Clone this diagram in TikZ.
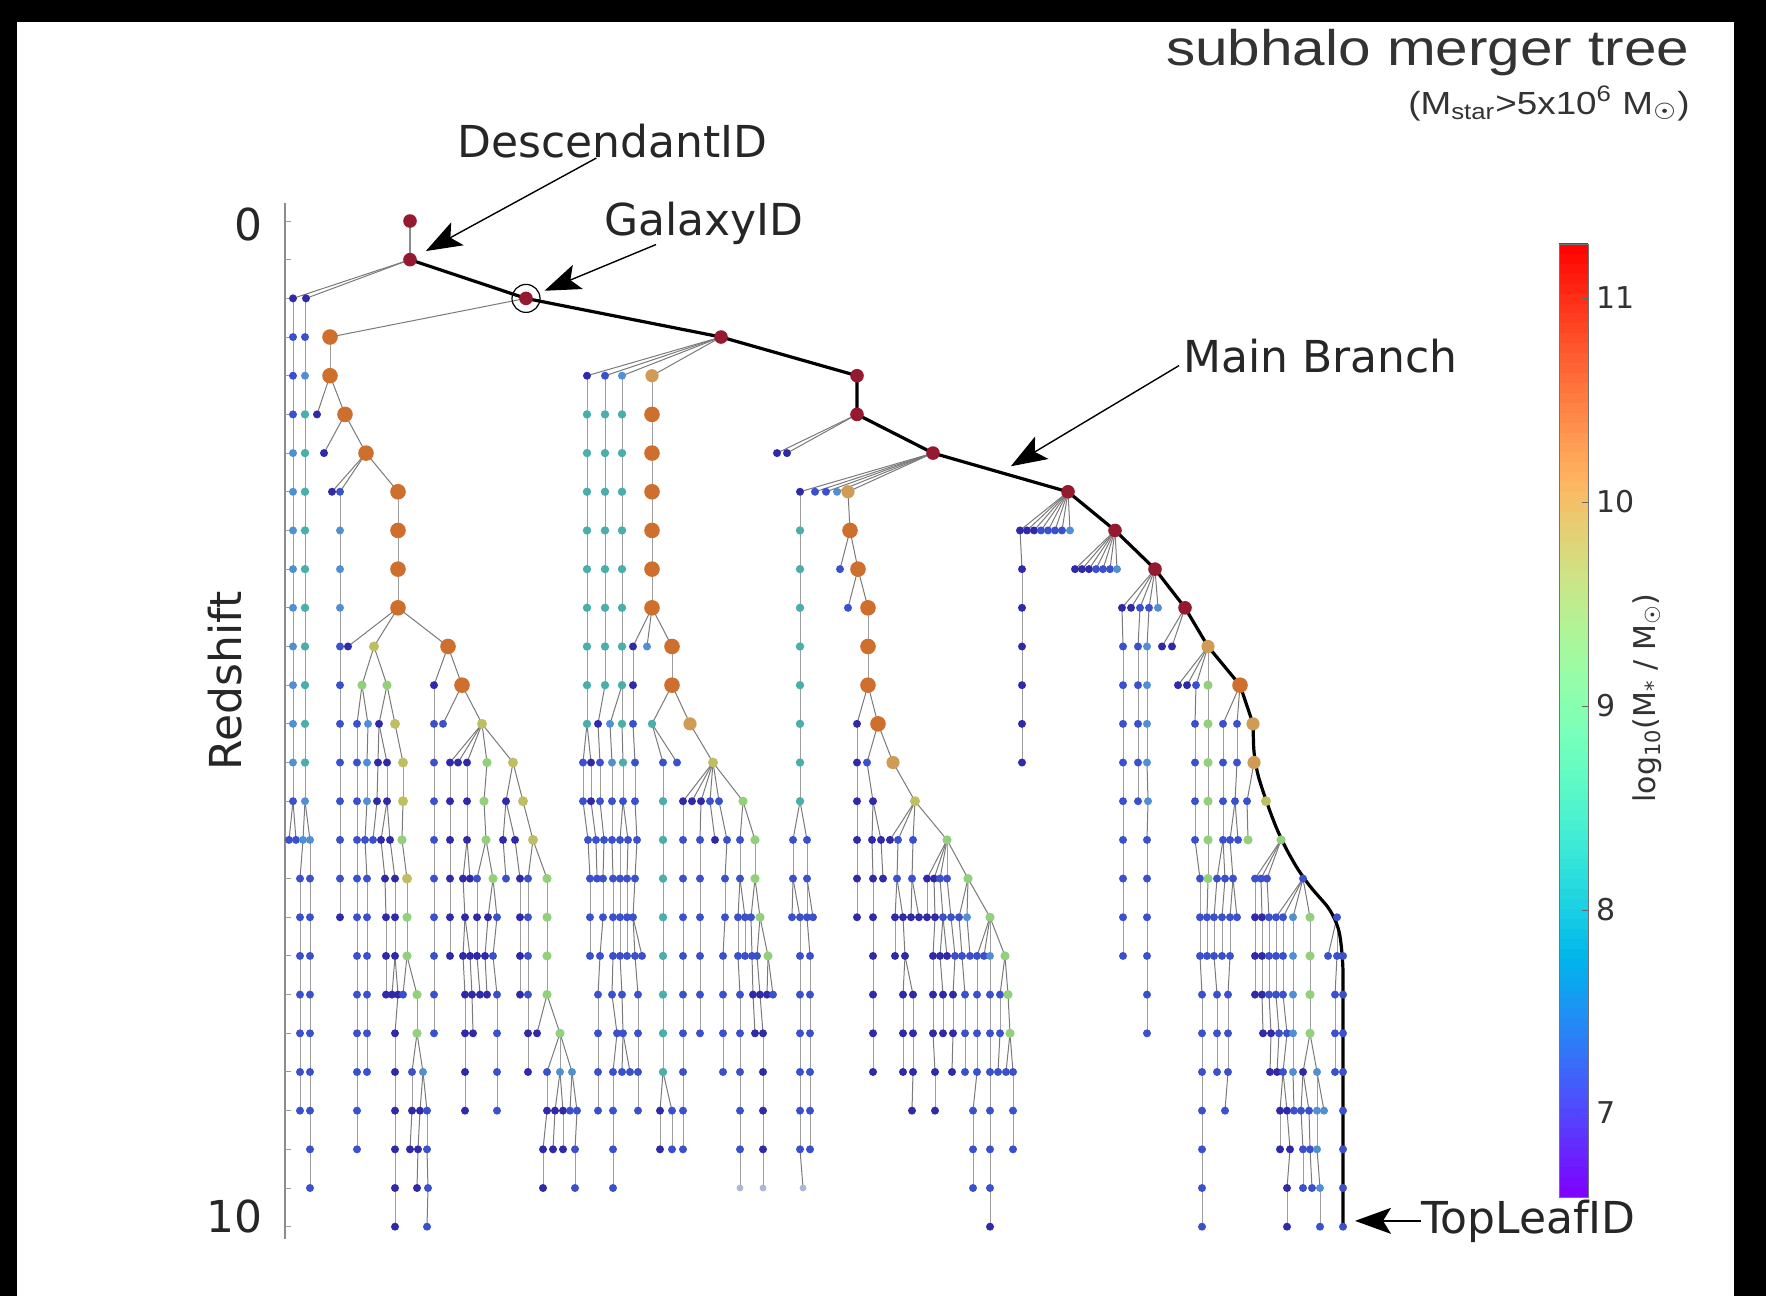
\documentclass[tikz,border=0pt]{standalone}
\usepackage{fontspec}
\setmainfont{DejaVu Sans}
\newfontfamily\titlefont{Liberation Sans}
\newfontfamily\djv{DejaVu Sans}
\usetikzlibrary{arrows.meta,calc}
\definecolor{cA}{HTML}{302AA8}
\definecolor{cB}{HTML}{3B50CC}
\definecolor{cC}{HTML}{4F8FD2}
\definecolor{cT}{HTML}{4AAFAA}
\definecolor{cG}{HTML}{92D07C}
\definecolor{cY}{HTML}{BFBE62}
\definecolor{cD}{HTML}{D09C55}
\definecolor{cO}{HTML}{CF6F2E}
\definecolor{cR}{HTML}{941A30}
\definecolor{cL}{HTML}{AEB6D6}
\newcommand\radA{2.0pt}
\newcommand\radB{2.0pt}
\newcommand\radC{2.0pt}
\newcommand\radT{2.1pt}
\newcommand\radG{2.3pt}
\newcommand\radY{2.5pt}
\newcommand\radD{3.3pt}
\newcommand\radO{3.9pt}
\newcommand\radR{3.4pt}
\newcommand\radL{1.7pt}
\newcommand\setrow[2]{\expandafter\def\csname rd#1\endcsname{#2}}
% entries: x / colour class / parent x (0 = straight above, 1 = no link)
\setrow{0}{410/R/1}
\setrow{1}{410/R/1}
\setrow{2}{293/A/410, 306/A/410, 526/R/1}
\setrow{3}{293/B/0, 305/B/0, 330/O/526, 721/R/1}
\setrow{4}{293/B/0, 305/C/0, 330/O/0, 587/A/721, 605/B/721, 622/C/721, 652/D/721, 857/R/1}
\setrow{5}{293/B/0, 305/T/0, 317/A/330, 345/O/330, 587/T/0, 605/T/0, 622/T/0, 652/O/0, 857/R/1}
\setrow{6}{293/C/0, 305/T/0, 324/A/345, 366/O/345, 587/T/0, 605/T/0, 622/T/0, 652/O/0, 777/A/857, 787/A/857, 933/R/1}
\setrow{7}{293/C/0, 305/T/0, 332/A/366, 340/B/366, 398/O/366, 587/T/0, 605/T/0, 622/T/0, 652/O/0, 800/A/933, 815/B/933, 826/B/933, 837/C/933, 848/D/933, 1068/R/1}
\setrow{8}{293/C/0, 305/T/0, 340/C/0, 398/O/0, 587/T/0, 605/T/0, 622/T/0, 652/O/0, 800/T/0, 850/O/848, 1020/A/1068, 1027/A/1068, 1034/A/1068, 1041/B/1068, 1048/B/1068, 1055/B/1068, 1062/B/1068, 1070/C/1068, 1115/R/1}
\setrow{9}{293/C/0, 305/T/0, 340/C/0, 398/O/0, 587/T/0, 605/T/0, 622/T/0, 652/O/0, 800/T/0, 840/B/850, 858/O/850, 1022/A/1020, 1075/A/1115, 1082/A/1115, 1089/A/1115, 1096/B/1115, 1103/B/1115, 1110/B/1115, 1117/C/1115, 1155/R/1}
\setrow{10}{293/C/0, 305/T/0, 340/C/0, 398/O/0, 587/T/0, 605/T/0, 622/T/0, 652/O/0, 800/T/0, 848/B/858, 868/O/858, 1022/A/0, 1122/A/1155, 1131/A/1155, 1140/B/1155, 1149/B/1155, 1158/C/1155, 1185/R/1}
\setrow{11}{293/C/0, 305/T/0, 340/B/0, 348/A/398, 374/Y/398, 448/O/398, 587/T/0, 605/T/0, 622/T/0, 633/A/652, 647/C/652, 672/O/652, 800/T/0, 868/O/0, 1022/A/0, 1123/B/1122, 1138/B/1140, 1147/C/1149, 1162/A/1185, 1172/A/1185, 1208/D/1}
\setrow{12}{293/C/0, 305/T/0, 340/B/0, 362/G/374, 387/G/374, 434/A/448, 462/O/448, 587/T/0, 605/T/0, 622/T/0, 633/A/0, 672/O/0, 800/T/0, 868/O/0, 1022/A/0, 1123/B/0, 1138/B/0, 1147/C/0, 1178/A/1208, 1187/A/1208, 1196/B/1208, 1208/G/0, 1240/O/1}
\setrow{13}{293/C/0, 305/T/0, 340/B/0, 357/B/362, 368/C/362, 379/A/387, 395/Y/387, 434/B/0, 443/B/462, 482/Y/462, 587/T/0, 598/A/605, 610/C/622, 622/T/0, 633/B/0, 652/T/672, 690/D/672, 800/T/0, 857/A/868, 878/O/868, 1022/A/0, 1123/B/0, 1138/B/0, 1147/C/0, 1195/B/1196, 1208/G/0, 1223/B/1240, 1237/B/1240, 1253/D/1}
\setrow{14}{293/C/0, 305/T/0, 340/B/0, 357/B/0, 367/C/368, 378/A/379, 387/A/379, 403/Y/395, 434/B/0, 450/A/482, 458/A/482, 467/A/482, 487/G/482, 513/Y/482, 583/B/587, 591/A/587, 600/B/598, 612/C/610, 623/T/622, 635/B/633, 663/B/652, 677/B/652, 713/Y/690, 800/T/0, 857/A/0, 867/B/878, 893/D/878, 1022/A/0, 1123/B/0, 1138/B/0, 1147/C/0, 1195/B/0, 1208/G/0, 1223/B/0, 1237/B/0, 1254/D/1}
\setrow{15}{293/B/0, 305/C/0, 340/B/0, 357/B/0, 367/C/0, 377/A/378, 387/A/0, 403/Y/0, 434/B/0, 450/A/0, 467/A/0, 484/G/487, 506/A/513, 523/Y/513, 583/B/0, 591/A/0, 600/B/0, 612/B/0, 623/B/0, 635/B/0, 663/T/0, 683/A/713, 692/A/713, 701/A/713, 710/B/713, 719/B/713, 743/G/713, 800/T/0, 857/A/0, 873/A/867, 915/Y/893, 1123/B/0, 1138/B/0, 1148/C/1147, 1195/B/0, 1208/G/0, 1223/B/0, 1235/B/1237, 1247/B/1254, 1266/Y/1}
\setrow{16}{289/B/293, 296/B/293, 303/C/305, 310/C/305, 340/B/0, 357/B/0, 365/B/367, 373/B/377, 381/A/387, 390/A/387, 402/G/403, 434/B/0, 450/A/0, 467/A/0, 486/G/484, 503/A/506, 515/A/506, 533/Y/523, 588/B/583, 596/B/591, 604/B/600, 612/B/0, 620/B/623, 628/B/623, 637/B/635, 663/T/0, 683/B/0, 700/B/701, 715/A/710, 727/B/719, 740/B/743, 755/G/743, 793/B/800, 807/B/800, 857/A/0, 872/A/873, 881/A/873, 890/A/915, 898/B/915, 913/B/915, 947/G/915, 1123/B/0, 1147/B/1148, 1195/B/0, 1208/G/0, 1223/B/0, 1230/B/1235, 1238/B/1235, 1248/G/1247, 1281/G/1}
\setrow{17}{300/B/303, 310/B/0, 340/B/0, 357/B/0, 367/B/365, 385/A/381, 395/A/390, 407/Y/402, 434/B/0, 450/A/0, 463/A/467, 470/A/467, 477/B/486, 493/G/486, 506/B/503, 520/A/515, 528/B/533, 547/G/533, 590/B/588, 597/B/596, 603/B/604, 613/B/612, 620/B/0, 627/B/628, 635/B/637, 663/T/0, 683/B/0, 700/B/0, 725/B/727, 740/B/0, 755/G/0, 793/B/0, 807/B/0, 857/A/0, 873/A/872, 883/A/881, 897/B/898, 912/B/913, 927/A/947, 934/A/947, 940/B/947, 947/B/0, 968/G/947, 1123/B/0, 1147/B/0, 1200/B/1195, 1208/G/0, 1217/B/1223, 1225/B/1223, 1233/B/1230, 1255/B/1281, 1261/B/1281, 1267/B/1281, 1303/B/1}
\setrow{18}{300/B/0, 310/B/0, 340/A/0, 357/B/0, 367/B/0, 386/A/385, 395/A/0, 407/G/0, 434/B/0, 450/A/0, 465/A/463, 477/A/0, 488/A/493, 497/B/493, 520/A/0, 528/B/0, 547/G/0, 590/B/0, 603/B/0, 613/B/0, 620/B/0, 627/B/0, 633/B/635, 663/T/0, 683/B/0, 700/B/0, 725/B/0, 738/B/740, 745/B/740, 751/B/755, 760/G/755, 792/B/793, 800/B/793, 807/B/0, 813/B/807, 857/A/0, 873/A/0, 895/A/897, 903/A/897, 911/A/912, 919/A/912, 927/A/0, 935/A/934, 943/B/940, 951/B/947, 959/B/968, 967/C/968, 990/G/968, 1123/B/0, 1147/B/0, 1200/B/0, 1207/B/1208, 1214/B/1217, 1222/B/1225, 1230/B/1233, 1237/B/1233, 1255/A/0, 1262/A/1261, 1269/B/1267, 1276/B/1303, 1283/B/1303, 1293/C/1303, 1310/G/1303, 1337/B/1}
\setrow{19}{300/B/0, 310/B/0, 357/B/0, 367/B/0, 386/A/0, 395/A/0, 407/G/0, 434/B/0, 450/A/0, 463/A/465, 470/A/465, 477/A/0, 485/A/488, 493/B/497, 520/A/0, 528/B/0, 547/G/0, 590/B/0, 600/B/603, 613/B/0, 620/B/0, 627/B/0, 635/B/633, 642/B/633, 663/T/0, 683/B/0, 700/B/0, 723/B/725, 738/B/0, 745/B/0, 752/B/751, 757/B/760, 768/G/760, 800/B/0, 810/B/807, 873/A/0, 895/A/0, 905/A/903, 933/A/935, 940/A/943, 947/A/943, 955/B/951, 962/B/959, 970/B/967, 977/B/990, 984/B/990, 990/C/0, 1005/G/990, 1123/B/0, 1147/B/0, 1200/B/0, 1207/B/0, 1214/B/0, 1222/B/0, 1230/B/0, 1255/A/0, 1262/A/0, 1269/B/0, 1276/B/0, 1283/B/0, 1293/C/0, 1310/G/0, 1328/B/1337, 1337/B/0, 1343/B/1}
\setrow{20}{300/B/0, 310/B/0, 357/B/0, 367/B/0, 386/A/0, 392/A/395, 398/A/395, 403/B/407, 417/G/407, 434/B/0, 465/A/463, 472/A/470, 480/A/477, 487/A/485, 497/B/493, 520/A/0, 528/B/0, 547/G/0, 598/B/600, 612/B/613, 622/B/620, 638/B/635, 663/T/0, 683/B/0, 700/B/0, 723/B/0, 740/B/738, 753/A/752, 760/A/757, 767/A/768, 773/B/768, 800/B/0, 810/B/0, 873/A/0, 903/A/905, 913/A/905, 933/A/0, 943/A/940, 953/A/955, 965/B/962, 977/B/0, 990/B/0, 1000/B/1005, 1008/G/1005, 1147/B/0, 1202/B/1200, 1217/B/1214, 1228/B/1230, 1255/A/0, 1262/A/0, 1269/B/0, 1276/B/0, 1283/B/0, 1293/C/0, 1310/G/0, 1335/B/1337, 1343/B/1}
\setrow{21}{300/B/0, 310/B/0, 357/B/0, 367/B/0, 395/A/398, 417/G/0, 434/B/0, 465/A/0, 473/A/472, 497/B/0, 528/A/0, 537/A/547, 560/G/547, 598/B/0, 617/B/612, 623/B/622, 638/B/0, 663/T/0, 683/B/0, 700/B/0, 723/B/0, 740/B/0, 755/A/753, 763/A/760, 800/B/0, 810/B/0, 873/A/0, 903/A/0, 913/A/0, 933/A/0, 943/A/0, 953/A/0, 965/B/0, 977/B/0, 990/B/0, 1000/B/0, 1010/G/1008, 1147/B/0, 1202/B/0, 1217/B/0, 1228/B/0, 1263/A/1262, 1271/A/1269, 1279/B/1276, 1287/B/1283, 1293/C/0, 1310/G/0, 1335/B/0, 1343/B/1}
\setrow{22}{300/B/0, 310/B/0, 357/B/0, 367/B/0, 395/A/0, 412/B/417, 423/C/417, 465/A/0, 497/B/0, 528/A/0, 547/B/560, 560/C/0, 572/C/560, 598/B/0, 613/B/617, 622/B/623, 630/B/623, 638/B/0, 663/T/0, 683/B/0, 723/B/0, 740/B/0, 763/A/0, 800/B/0, 810/B/0, 873/A/0, 903/A/0, 913/A/0, 935/A/933, 952/A/953, 965/B/0, 977/B/0, 990/B/0, 998/B/1000, 1006/B/1010, 1013/B/1010, 1202/B/0, 1217/B/0, 1228/B/0, 1270/A/1271, 1277/A/1279, 1283/B/1287, 1293/C/0, 1303/A/1310, 1317/C/1310, 1335/B/0, 1343/B/1}
\setrow{23}{300/B/0, 310/B/0, 357/B/0, 395/A/0, 412/A/0, 420/A/423, 427/B/423, 465/A/0, 497/B/0, 547/A/0, 555/A/560, 563/A/560, 570/B/572, 577/B/572, 598/B/0, 613/B/0, 638/B/0, 660/A/663, 672/B/663, 683/B/0, 740/B/0, 763/A/0, 800/B/0, 810/B/0, 912/A/913, 935/A/0, 973/B/977, 990/B/0, 1013/B/0, 1202/B/0, 1225/B/1228, 1280/A/1283, 1287/A/1283, 1294/B/1293, 1301/B/1303, 1309/B/1303, 1317/C/0, 1324/C/1317, 1343/B/1}
\setrow{24}{310/B/0, 357/B/0, 395/A/0, 410/A/412, 418/A/420, 427/B/0, 543/A/547, 553/A/555, 563/A/0, 575/B/577, 613/B/0, 660/A/0, 672/B/0, 683/B/0, 740/B/0, 763/A/0, 800/B/0, 810/B/0, 973/B/0, 990/B/0, 1013/B/0, 1202/B/0, 1280/A/0, 1290/A/1287, 1303/B/1301, 1310/B/1309, 1317/C/0, 1343/B/1}
\setrow{25}{310/B/0, 395/A/0, 417/A/418, 428/B/427, 543/A/0, 575/B/0, 613/B/0, 740/L/0, 763/L/0, 803/L/800, 973/B/0, 990/B/0, 1202/B/0, 1287/A/1290, 1303/B/0, 1312/B/1310, 1320/C/1317, 1343/B/1}
\setrow{26}{395/A/0, 427/B/428, 990/A/0, 1202/B/0, 1287/A/0, 1320/B/0, 1343/B/1}
\begin{document}
\begin{tikzpicture}[x=0.5pt,y=-0.5pt,
  linkv/.style={draw=black!38, line width=0.5pt},
  linkd/.style={draw=black!52, line width=0.5pt},
  mainline/.style={draw=black, line width=1.6pt, line join=round},
  arr/.style={draw=black, line width=0.7pt, -{Stealth[length=18pt,width=13pt,inset=4pt]}},
  lbl/.style={font=\fontsize{22}{26}\selectfont, text=black!85, inner sep=0pt},
  cbnum/.style={font=\fontsize{15}{18}\selectfont, text=black!80, inner sep=0pt, anchor=west}]
\useasboundingbox (0,0) rectangle (1766,1296);
\fill[white] (0,0) rectangle (1766,1296);
\fill[black] (0,0) rectangle (1766,22);
\fill[black] (0,0) rectangle (17,1296);
\fill[black] (1734,0) rectangle (1766,1296);
% main branch coordinates
\coordinate (m0) at (410,221.0);
\coordinate (m1) at (410,259.7);
\coordinate (m2) at (526,298.4);
\coordinate (m3) at (721,337.0);
\coordinate (m4) at (857,375.7);
\coordinate (m5) at (857,414.4);
\coordinate (m6) at (933,453.1);
\coordinate (m7) at (1068,491.8);
\coordinate (m8) at (1115,530.4);
\coordinate (m9) at (1155,569.1);
\coordinate (m10) at (1185,607.8);
\coordinate (m11) at (1208,646.5);
\coordinate (m12) at (1240,685.2);
\coordinate (m13) at (1253,723.8);
\coordinate (m14) at (1254,762.5);
\coordinate (m15) at (1266,801.2);
\coordinate (m16) at (1281,839.9);
\coordinate (m17) at (1303,878.6);
\coordinate (m18) at (1337,917.2);
\coordinate (m19) at (1343,955.9);
\coordinate (m26) at (1343,1226.7);
\coordinate (mbt) at ($(m6)!0.5!(m7)$);
% axis
\draw[draw=black!45, line width=0.7pt] (285,203) -- (285,1239);
\foreach \rw in {0,...,26}{\draw[black!40, line width=0.5pt] (285,{221+38.68*\rw}) -- (291,{221+38.68*\rw});}
\node[lbl, anchor=east] (z0) at (263,224) {0};
\node[lbl, anchor=east] (z10) at (263,1216) {10};
\node[lbl, rotate=90] (rs) at (225,681) {Redshift};
% links
\foreach \rw in {0,...,26}{%
  \pgfmathsetmacro\yy{221+38.68*\rw}%
  \pgfmathsetmacro\yp{\yy-38.68}%
  \expandafter\let\expandafter\cur\csname rd\rw\endcsname
  \foreach \xx/\cl/\pp in \cur {%
    \ifnum\pp=1\relax\else
      \ifnum\pp=0\relax
        \draw[linkv] (\xx,\yp) -- (\xx,\yy);%
      \else
        \draw[linkd] (\pp,\yp) -- (\xx,\yy);%
      \fi
    \fi
  }%
}
\draw[draw=black!45, line width=1.3pt] (m0) -- (m1);
% main branch
\draw[mainline] (m1) -- (m2) -- (m3) -- (m4) -- (m5) -- (m6) -- (m7) -- (m8) -- (m9) -- (m10) -- (m11) -- (m12) -- (m13);
\draw[mainline, rounded corners=9pt] (m13) -- (m14) -- (m15) -- (m16) -- (m17) -- (m18) -- (m19) -- (m26);
% dots
\foreach \rw in {0,...,26}{%
  \pgfmathsetmacro\yy{221+38.68*\rw}%
  \expandafter\let\expandafter\cur\csname rd\rw\endcsname
  \foreach \xx/\cl/\pp in \cur {%
    \edef\dcol{c\cl}\edef\drad{\csname rad\cl\endcsname}%
    \fill[fill=\dcol] (\xx,\yy) circle[radius=\drad];
  }%
}
\draw[black, line width=0.6pt] (m2) circle[radius=7pt];
% annotations
\node[lbl, anchor=base west] (desc) at (457,157) {DescendantID};
\node[lbl, anchor=base west] (gal) at (604,235) {GalaxyID};
\node[lbl, anchor=base west] (mb) at (1183,372) {Main Branch};
\node[lbl, anchor=base west] (tl) at (1421,1233) {TopLeafID};
\draw[arr, shorten >=9pt] ([xshift=-8pt]desc.south) -- (m1);
\draw[arr, shorten >=10pt] ([xshift=-24pt]gal.south) -- (m2);
\draw[arr, shorten >=6pt] ([xshift=-2pt,yshift=-5pt]mb.west) -- (mbt);
\draw[arr, shorten >=6pt] (tl.west) -- (tl.west -| m26);
% title
\node[anchor=base east, xscale=1.17, inner sep=0pt, text=black!80] (title) at (1690,65) {\titlefont\fontsize{25}{30}\selectfont subhalo merger tree};
\node[anchor=base east, xscale=1.15, inner sep=0pt, text=black!80] (sub) at (1690,114) {\titlefont\fontsize{16}{19}\selectfont (M\textsubscript{star}>5x10\textsuperscript{6} M\textsubscript{\djv ☉})};
% colour bar
\foreach \i in {0,...,95}{%
  \pgfmathsetmacro\cbt{(\i+0.5)/96}%
  \pgfmathsetmacro\cbr{min(1,abs(2*\cbt-0.5))}%
  \pgfmathsetmacro\cbg{sin(180*\cbt)}%
  \pgfmathsetmacro\cbb{cos(90*\cbt)}%
  \definecolor{cbar}{rgb}{\cbr,\cbg,\cbb}%
  \pgfmathsetmacro\ya{1197-\i*(953/96)}%
  \pgfmathsetmacro\yb{\ya-(953/96)-0.8}%
  \fill[cbar] (1559,\ya) rectangle (1588,\yb);
}
\draw[black!55, line width=0.4pt] (1559,244) rectangle (1588,1197);
\foreach \v/\yv in {11/298,10/502,9/706,8/910,7/1113}{\draw[black!60, line width=0.4pt] (1588,\yv) -- (1582,\yv);}
\node[cbnum] (t11) at (1596,298) {11};
\node[cbnum] (t10) at (1596,502) {10};
\node[cbnum] (t9) at (1596,706) {9};
\node[cbnum] (t8) at (1596,910) {8};
\node[cbnum] (t7) at (1596,1113) {7};
\node[rotate=90, font=\fontsize{15}{18}\selectfont, text=black!80, inner sep=0pt] (cbl) at (1647,698) {log\textsubscript{10}(M\textsubscript{*} / M\textsubscript{☉})};
\end{tikzpicture}
\end{document}
